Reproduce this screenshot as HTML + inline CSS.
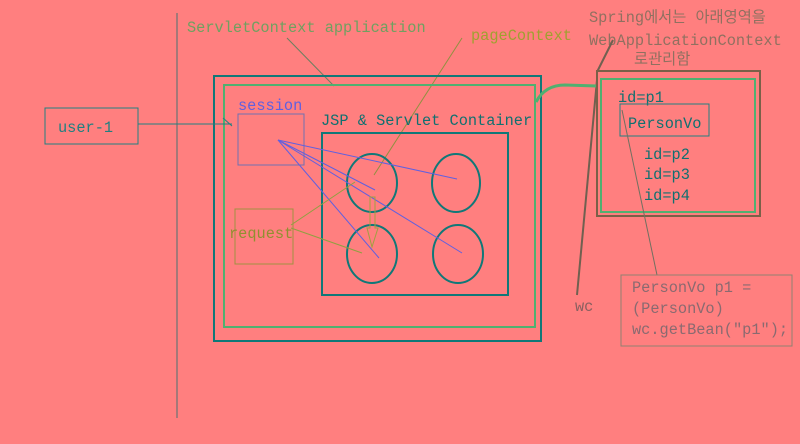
<!DOCTYPE html>
<html><head><meta charset="utf-8"><style>
html,body{margin:0;padding:0;background:#ff7f7f;}
svg{display:block}
text{font-family:"Liberation Mono","Noto Sans CJK KR",monospace;font-size:15.3px;}
</style></head><body>
<svg width="800" height="444" viewBox="0 0 800 444">
<rect width="800" height="444" fill="#ff7f7f"/>
<line x1="177" y1="13" x2="177" y2="418" stroke="#4a7070" stroke-width="1"/>
<text x="187" y="32" fill="#70a060">ServletContext application</text>
<line x1="287" y1="38" x2="334" y2="86" stroke="#6a8060"/>
<text x="471" y="40" fill="#a0a030">pageContext</text>
<line x1="462" y1="38" x2="374" y2="175" stroke="#909040"/>
<rect x="214" y="76" width="327" height="265" fill="none" stroke="#107878" stroke-width="2"/>
<rect x="224" y="85" width="311" height="242" fill="none" stroke="#50b070" stroke-width="2"/>
<rect x="45" y="108" width="93" height="36" fill="none" stroke="#208080"/>
<text x="58" y="132" fill="#208080">user-1</text>
<line x1="138" y1="124" x2="232" y2="124" stroke="#208080"/>
<path d="M223,118 L232,126" stroke="#208080" fill="none"/>
<text x="238" y="110" fill="#6060e0">session</text>
<rect x="238" y="114" width="66" height="51" fill="none" stroke="#7070b0"/>
<text x="321" y="125" fill="#107070">JSP &amp; Servlet Container</text>
<rect x="322" y="133" width="186" height="162" fill="none" stroke="#107878" stroke-width="2"/>
<ellipse cx="372" cy="183" rx="25" ry="29" fill="none" stroke="#107878" stroke-width="2"/>
<ellipse cx="456" cy="183" rx="24" ry="29" fill="none" stroke="#107878" stroke-width="2"/>
<ellipse cx="372" cy="254" rx="25" ry="29" fill="none" stroke="#107878" stroke-width="2"/>
<ellipse cx="458" cy="254" rx="25" ry="29" fill="none" stroke="#107878" stroke-width="2"/>
<rect x="235" y="209" width="58" height="55" fill="none" stroke="#a09040"/>
<text x="229" y="238" fill="#909030">request</text>
<g stroke="#6060e0" stroke-width="1">
<line x1="278" y1="140" x2="457" y2="179"/><line x1="278" y1="140" x2="375" y2="190"/>
<line x1="278" y1="140" x2="462" y2="253"/><line x1="278" y1="140" x2="379" y2="258"/>
</g>
<g stroke="#90a040">
<line x1="291" y1="225" x2="355" y2="182"/><line x1="291" y1="228" x2="362" y2="253"/>
</g>
<path d="M370,197 L375,197 L375,228 L378,228 L372,247 L367,228 L370,228 Z" fill="none" stroke="#a0a040"/>
<text x="589" y="22" fill="#907060">Spring에서는 아래영역을</text>
<text x="589" y="45" fill="#907060">WebApplicationContext</text>
<text x="634" y="64" fill="#907060">로관리함</text>
<line x1="597" y1="72" x2="613" y2="40" stroke="#706050" stroke-width="2"/>
<line x1="577" y1="295" x2="597" y2="80" stroke="#706050" stroke-width="2"/>
<text x="575" y="311" fill="#8a6060" font-size="12">wc</text>
<path d="M536,102 Q545,85 565,85 L597,86" fill="none" stroke="#50b070" stroke-width="3"/>
<rect x="597" y="71" width="163" height="145" fill="none" stroke="#7a6048" stroke-width="2"/>
<rect x="601" y="79" width="154" height="133" fill="none" stroke="#50b070" stroke-width="2"/>
<text x="618" y="102" fill="#107070">id=p1</text>
<rect x="620" y="104" width="89" height="32" fill="none" stroke="#208080"/>
<text x="628" y="128" fill="#107070">PersonVo</text>
<text x="644" y="159" fill="#107070">id=p2</text>
<text x="644" y="179" fill="#107070">id=p3</text>
<text x="644" y="200" fill="#107070">id=p4</text>
<line x1="622" y1="110" x2="657" y2="275" stroke="#707060"/>
<rect x="621" y="275" width="171" height="71" fill="none" stroke="#908070"/>
<text x="632" y="292" fill="#8a6a70">PersonVo p1 =</text>
<text x="632" y="313" fill="#8a6a70">(PersonVo)</text>
<text x="632" y="334" fill="#8a6a70">wc.getBean("p1");</text>
</svg>
</body></html>
